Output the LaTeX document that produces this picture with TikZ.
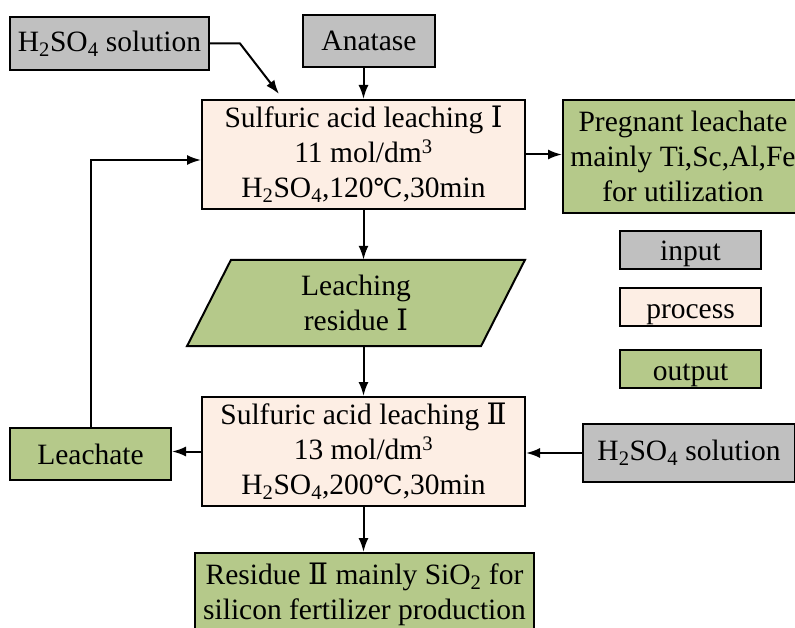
\documentclass[tikz,border=0pt]{standalone}
\usepackage{fontspec}
\setmainfont{Liberation Serif}
\newfontfamily\symfont{DejaVu Serif}
\usetikzlibrary{arrows.meta}

\definecolor{inputgray}{HTML}{C0C0C0}
\definecolor{processpeach}{HTML}{FDEEE4}
\definecolor{outputgreen}{HTML}{B5C98A}

\newcommand{\romI}{{\symfont Ⅰ}}
\newcommand{\romII}{{\symfont Ⅱ}}
\newcommand{\degC}{{\symfont\fontsize{26}{35}\selectfont ℃}}

\begin{document}
\begin{tikzpicture}[> = {Latex[length = 14pt, width = 10pt]}, x = 1pt, y = -1pt,
	every node/.style = {font = \fontsize{29.5}{35}\selectfont, align = center, inner sep = 0pt},
	inbox/.style = {draw, line width = 2pt, fill = inputgray},
	procbox/.style = {draw, line width = 2pt, fill = processpeach},
	outbox/.style = {draw, line width = 2pt, fill = outputgreen},
	keybox/.style = {minimum width = 141pt, minimum height = 38pt, text height = 24pt, text depth = 2pt},
	flow/.style = {->, line width = 2pt}]

	% Frame
	
	\clip (0, 0) rectangle (795, 628);
	
	% Inputs
	
	\node [inbox, minimum width = 199pt, minimum height = 53pt] (acidA) at (109.5, 43.5) {H\textsubscript{2}SO\textsubscript{4} solution};
	\node [inbox, minimum width = 132pt, minimum height = 52pt] (anatase) at (369, 41) {Anatase};
	\node [inbox, minimum width = 212pt, minimum height = 58pt] (acidB) at (689, 453) {H\textsubscript{2}SO\textsubscript{4} solution};
	
	% Leaching steps
	
	\node [procbox, minimum width = 323pt, minimum height = 109pt] (leachI) at (363.5, 154.5)
		{Sulfuric acid leaching \romI\\11 mol/dm\textsuperscript{3}\\H\textsubscript{2}SO\textsubscript{4},120\degC,30min};
	\node [procbox, minimum width = 323pt, minimum height = 109pt] (leachII) at (363.5, 451.5)
		{Sulfuric acid leaching \romII\\13 mol/dm\textsuperscript{3}\\H\textsubscript{2}SO\textsubscript{4},200\degC,30min};
	
	% Residue I (parallelogram)
	
	\def\S{22}		% Slant offset
	\def\W{147}		% Half width
	
	\node [minimum width = 294pt, minimum height = 86pt] (residueI) at (356, 303) {};
	\filldraw [fill = outputgreen, line width = 2pt]
		([xshift = {(\S - \W) * 1pt}] residueI.north) -- ([xshift = {(\S + \W) * 1pt}] residueI.north)
		-- ([xshift = {(\W - \S) * 1pt}] residueI.south) -- ([xshift = {(-\S - \W) * 1pt}] residueI.south) -- cycle;
	\node at (residueI) {Leaching\\residue \romI};
	
	% Outputs
	
	\node [outbox, minimum width = 240pt, minimum height = 113pt] (pregnant) at (683, 156.5)
		{Pregnant leachate\\mainly Ti,Sc,Al,Fe\\for utilization};
	\node [outbox, minimum width = 161pt, minimum height = 52pt] (leachate) at (90.5, 454) {Leachate};
	\node [outbox, minimum width = 339pt, minimum height = 82pt] (residueII) at (364.5, 594)
		{Residue \romII\ mainly SiO\textsubscript{2} for\\silicon fertilizer production};
	
	% Legend
	
	\node [inbox, keybox] (keyin) at (690.5, 250) {input};
	\node [procbox, keybox] (keyproc) at (690.5, 307) {process};
	\node [outbox, keybox] (keyout) at (690.5, 369) {output};
	
	% Connectors
	
	\coordinate (bendA) at (240, 43.5);
	\coordinate (feedA) at (279, 94);
	
	\draw [flow] (acidA.east) -- (bendA) -- (feedA);
	\draw [flow] (anatase.south -| leachI.north) -- (leachI.north);
	\draw [flow] (leachI.east) -- (leachI.east -| pregnant.west);
	\draw [flow] (leachI.south) -- (leachI.south |- residueI.north);
	\draw [flow] (leachI.south |- residueI.south) -- (leachII.north);
	\draw [flow] (leachII.west) -- (leachII.west -| leachate.east);
	\draw [flow] (acidB.west) -- (acidB.west -| leachII.east);
	\draw [flow] (leachII.south) -- (leachII.south |- residueII.north);
	\draw [flow] (leachate.north) |- ([yshift = -5.5pt] leachI.west);

\end{tikzpicture}
\end{document}
